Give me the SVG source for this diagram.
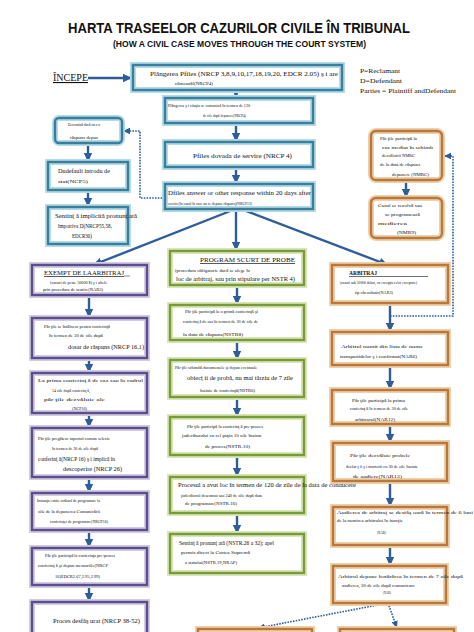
<svg xmlns="http://www.w3.org/2000/svg" width="474" height="632" viewBox="0 0 474 632">
<style>
.bg{fill:#fff}
.g{fill:#fff;stroke-width:6}
.b{fill:none;stroke-width:2.4}
.tg{stroke:#b3dbe8}.tb{stroke:#3b7e9c}
.pg{stroke:#d2cce3}.pb{stroke:#5c4d8b}
.gg{stroke:#d8e6b8}.gb{stroke:#7a9a3a}
.og{stroke:#efd0ad}.ob{stroke:#b9783a}
.ln{fill:none;stroke:#2f5d9c;stroke-width:2.4}
.dt{fill:none;stroke:#2f5d9c;stroke-width:1.6;stroke-dasharray:1.6 1.2}
text{font-family:"Liberation Serif","Times New Roman",serif;fill:#111}
.s{font-size:7px}
.x{font-size:5px}
.ttl{font-family:"Liberation Sans",Arial,sans-serif;font-weight:bold}
</style>
<defs>
<marker id="ah" markerUnits="userSpaceOnUse" markerWidth="10" markerHeight="10" refX="9" refY="5" orient="auto">
<path d="M0,0.8 L9,5 L0,9.2 Z" fill="#2f5d9c"/>
</marker>
<marker id="as" markerUnits="userSpaceOnUse" markerWidth="8" markerHeight="8" refX="7" refY="4" orient="auto">
<path d="M0,0.8 L7,4 L0,7.2 Z" fill="#2f5d9c"/>
</marker>
</defs>
<rect class="bg" width="474" height="632"/>

<g id="title">
<text class="ttl" x="68" y="33" font-size="14" textLength="342" lengthAdjust="spacingAndGlyphs">HARTA TRASEELOR CAZURILOR CIVILE ÎN TRIBUNAL</text>
<text class="ttl" x="113" y="47" font-size="8.5" textLength="253" lengthAdjust="spacingAndGlyphs">(HOW A CIVIL CASE MOVES THROUGH THE COURT SYSTEM)</text>
</g>

<g id="start">
<text x="53" y="81" font-size="11" text-decoration="underline" textLength="35" lengthAdjust="spacingAndGlyphs">ÎNCEPE</text>
</g>

<g id="legend">
<text class="s" x="360" y="73" textLength="40" lengthAdjust="spacingAndGlyphs">P=Reclamant</text>
<text class="s" x="360" y="83" textLength="42" lengthAdjust="spacingAndGlyphs">D=Defendant</text>
<text class="s" x="360" y="93" textLength="96" lengthAdjust="spacingAndGlyphs">Parties = Plaintiff andDefendant</text>
</g>

<g id="connectors">
<path class="ln" d="M88,78 H132" marker-end="url(#ah)"/>
<path class="ln" d="M236,90 V98" marker-end="url(#ah)"/>
<path class="ln" d="M236,123 V142" marker-end="url(#ah)"/>
<path class="ln" d="M236,167 V184" marker-end="url(#ah)"/>
<path class="ln" d="M236,209 V251" marker-end="url(#ah)"/>
<path class="ln" d="M238,208 L93,265" marker-end="url(#ah)"/>
<path class="ln" d="M238,208 L388,265" marker-end="url(#ah)"/>
<path class="dt" d="M165,198 H140 V131 H123" marker-end="url(#as)"/>
<path class="ln" d="M88,143 V162" marker-end="url(#ah)"/>
<path class="ln" d="M88,190 V207" marker-end="url(#ah)"/>
<path class="ln" d="M89,295 V318" marker-end="url(#ah)"/>
<path class="ln" d="M89,358 V373" marker-end="url(#ah)"/>
<path class="ln" d="M89,413 V428" marker-end="url(#ah)"/>
<path class="ln" d="M89,477 V493" marker-end="url(#ah)"/>
<path class="ln" d="M89,530 V548" marker-end="url(#ah)"/>
<path class="ln" d="M89,585 V602" marker-end="url(#ah)"/>
<path class="ln" d="M237,285 V305" marker-end="url(#ah)"/>
<path class="ln" d="M237,340 V360" marker-end="url(#ah)"/>
<path class="ln" d="M237,397 V417" marker-end="url(#ah)"/>
<path class="ln" d="M237,455 V477" marker-end="url(#ah)"/>
<path class="ln" d="M237,513 V534" marker-end="url(#ah)"/>
<path class="ln" d="M390,303 V332" marker-end="url(#ah)"/>
<path class="ln" d="M390,365 V390" marker-end="url(#ah)"/>
<path class="ln" d="M390,424 V443" marker-end="url(#ah)"/>
<path class="ln" d="M390,481 V507" marker-end="url(#ah)"/>
<path class="ln" d="M390,545 V566" marker-end="url(#ah)"/>
<path class="ln" d="M406,180 V198" marker-end="url(#ah)"/>
<path class="dt" d="M390,316 H453 V156 H444" marker-end="url(#as)"/>
<path class="dt" d="M388,603 L258,628" marker-end="url(#as)"/>
<path class="dt" d="M388,603 L397,628" marker-end="url(#as)"/>
</g>

<g id="n-complaint">
<rect class="g tg" x="133" y="65" width="209" height="25"/><rect class="b tb" x="133" y="65" width="209" height="25"/>
<text class="s" x="150" y="76" textLength="188" lengthAdjust="spacingAndGlyphs">Plângerea Pfiles (NRCP 3,8,9,10,17,18,19,20, EDCR 2.05) ş i are</text>
<text class="x" x="175" y="85" textLength="38" lengthAdjust="spacingAndGlyphs">câmeanăl(NRCP4)</text>
</g>

<g id="n-summons">
<rect class="g tg" x="165" y="98" width="148" height="25"/><rect class="b tb" x="165" y="98" width="148" height="25"/>
<text class="x" x="168" y="107" textLength="82" lengthAdjust="spacingAndGlyphs">Plângerea ş i citaţia se comunică în termen de 120</text>
<text class="x" x="203" y="117" textLength="43" lengthAdjust="spacingAndGlyphs">de zile după depunere(NRCP4)</text>
</g>

<g id="n-service">
<rect class="g tg" x="165" y="142" width="148" height="25"/><rect class="b tb" x="165" y="142" width="148" height="25"/>
<text class="s" x="193" y="158" textLength="99" lengthAdjust="spacingAndGlyphs">Pfiles dovada de servire (NRCP 4)</text>
</g>

<g id="n-answer">
<rect class="g tg" x="165" y="184" width="148" height="25"/><rect class="b tb" x="165" y="184" width="148" height="25"/>
<text class="s" x="168" y="195" textLength="143" lengthAdjust="spacingAndGlyphs">Dfiles answer or other response within 20 days after</text>
<text class="x" x="168" y="205" textLength="84" lengthAdjust="spacingAndGlyphs">service(în cazul în care nu se depune răspuns)(NRCP12)</text>
</g>

<g id="n-noanswer">
<rect class="g tg" x="55" y="118" width="67" height="25" rx="4"/><rect class="b tb" x="55" y="118" width="67" height="25" rx="4"/>
<text class="x" x="68" y="126" textLength="32" lengthAdjust="spacingAndGlyphs">Determină dacă nu s-a</text>
<text class="x" x="70" y="139" textLength="28" lengthAdjust="spacingAndGlyphs">răspuns depus</text>
</g>

<g id="n-default">
<rect class="g tg" x="48" y="162" width="80" height="28"/><rect class="b tb" x="48" y="162" width="80" height="28"/>
<text class="s" x="58" y="173" textLength="52" lengthAdjust="spacingAndGlyphs">Dudefault introdu de</text>
<text class="x" x="58" y="183" textLength="30" lengthAdjust="spacingAndGlyphs">stat(NCP5)</text>
</g>

<g id="n-defaultjudgment">
<rect class="g tg" x="48" y="207" width="80" height="37"/><rect class="b tb" x="48" y="207" width="80" height="37"/>
<text class="s" x="55" y="218" textLength="82" lengthAdjust="spacingAndGlyphs">Sentinţ ă implicită pronunţ ată</text>
<text class="s" x="58" y="228" textLength="54" lengthAdjust="spacingAndGlyphs">împotriva D(NRCP55,58,</text>
<text class="s" x="72" y="238" textLength="20" lengthAdjust="spacingAndGlyphs">EDCR30)</text>
</g>

<g id="n-mediation">
<rect class="g og" x="371" y="131" width="71" height="49" rx="5"/><rect class="b ob" x="371" y="131" width="71" height="49" rx="5"/>
<text class="x" x="380" y="140" textLength="37" lengthAdjust="spacingAndGlyphs">Păr ţile participă la</text>
<text class="x" x="382" y="149" textLength="51" lengthAdjust="spacingAndGlyphs">caz mediat în schimb</text>
<text class="x" x="382" y="157" textLength="33" lengthAdjust="spacingAndGlyphs">dezvăluirii NMRC</text>
<text class="x" x="380" y="166" textLength="40" lengthAdjust="spacingAndGlyphs">de la data de răspuns</text>
<text class="x" x="392" y="176" textLength="37" lengthAdjust="spacingAndGlyphs">depunere (NMRC)</text>
</g>

<g id="n-mediated">
<rect class="g og" x="371" y="198" width="71" height="40" rx="5"/><rect class="b ob" x="371" y="198" width="71" height="40" rx="5"/>
<text class="x" x="378" y="207" textLength="44" lengthAdjust="spacingAndGlyphs">Cazul se rezolvă sau</text>
<text class="x" x="385" y="216" textLength="35" lengthAdjust="spacingAndGlyphs">se programează</text>
<text class="x" x="378" y="225" textLength="29" lengthAdjust="spacingAndGlyphs">medierea</text>
<text class="x" x="397" y="234" textLength="19" lengthAdjust="spacingAndGlyphs">(NMR9)</text>
</g>

<g id="n-exempt">
<rect class="g pg" x="32" y="265" width="115" height="30"/><rect class="b pb" x="32" y="265" width="115" height="30"/>
<text class="s" x="44" y="275" textLength="80" lengthAdjust="spacingAndGlyphs" text-decoration="underline">EXEMPT DE LAARBITRAJ</text>
<line x1="124" y1="276" x2="130" y2="276" stroke="#111" stroke-width="0.5"/>
<text class="x" x="50" y="284" textLength="57" lengthAdjust="spacingAndGlyphs">(cazuri de peste 50000 $) ş i altele</text>
<text class="x" x="43" y="291" textLength="60" lengthAdjust="spacingAndGlyphs">prin procedura de scutire(NAR3)</text>
</g>

<g id="n-l2">
<rect class="g pg" x="32" y="318" width="115" height="40"/><rect class="b pb" x="32" y="318" width="115" height="40"/>
<text class="x" x="44" y="328" textLength="66" lengthAdjust="spacingAndGlyphs">Păr ţile se întâlnesc pentru conferinţă</text>
<text class="x" x="49" y="337" textLength="54" lengthAdjust="spacingAndGlyphs">în termen de 30 de zile după</text>
<text class="s" x="68" y="349" textLength="76" lengthAdjust="spacingAndGlyphs">dosar de răspuns (NRCP 16.1)</text>
</g>

<g id="n-l3">
<rect class="g pg" x="32" y="373" width="115" height="40"/><rect class="b pb" x="32" y="373" width="115" height="40"/>
<text class="x" x="38" y="382" textLength="105" lengthAdjust="spacingAndGlyphs">La prima conferinţ ă de caz sau în cadrul</text>
<text class="x" x="52" y="392" textLength="38" lengthAdjust="spacingAndGlyphs">14 zile după conferinţ ă,</text>
<text class="x" x="44" y="401" textLength="61" lengthAdjust="spacingAndGlyphs">păr ţile dezvăluie ale</text>
<text class="x" x="72" y="410" textLength="15" lengthAdjust="spacingAndGlyphs">(NCP16)</text>
</g>

<g id="n-l4">
<rect class="g pg" x="32" y="428" width="115" height="49"/><rect class="b pb" x="32" y="428" width="115" height="49"/>
<text class="x" x="38" y="440" textLength="72" lengthAdjust="spacingAndGlyphs">Păr ţile pregătesc raportul comun selecte</text>
<text class="x" x="52" y="450" textLength="46" lengthAdjust="spacingAndGlyphs">în termen de 30 de zile după</text>
<text class="s" x="38" y="461" textLength="77" lengthAdjust="spacingAndGlyphs">conferinţ ă(NRCP 16) ş i implică în</text>
<text class="s" x="63" y="471" textLength="59" lengthAdjust="spacingAndGlyphs">descoperire (NRCP 26)</text>
</g>

<g id="n-l5">
<rect class="g pg" x="32" y="493" width="115" height="37"/><rect class="b pb" x="32" y="493" width="115" height="37"/>
<text class="x" x="37" y="502" textLength="63" lengthAdjust="spacingAndGlyphs">Instanţa emite ordinul de programare la</text>
<text class="x" x="38" y="513" textLength="62" lengthAdjust="spacingAndGlyphs">zile de la depunerea Comunicării</text>
<text class="x" x="50" y="523" textLength="58" lengthAdjust="spacingAndGlyphs">conferinţei de programare(NRCP16)</text>
</g>

<g id="n-l6">
<rect class="g pg" x="32" y="548" width="115" height="37"/><rect class="b pb" x="32" y="548" width="115" height="37"/>
<text class="x" x="45" y="557" textLength="70" lengthAdjust="spacingAndGlyphs">Păr ţile participă la conferinţa pre-proces</text>
<text class="x" x="38" y="567" textLength="70" lengthAdjust="spacingAndGlyphs">conferinţ ă şi depun memoriile(NRCP</text>
<text class="x" x="55" y="578" textLength="45" lengthAdjust="spacingAndGlyphs">16)EDCR2.67,2.95,2.99)</text>
</g>

<g id="n-l7">
<rect class="g pg" x="32" y="602" width="115" height="50"/><rect class="b pb" x="32" y="602" width="115" height="50"/>
<text class="s" x="53" y="623" textLength="87" lengthAdjust="spacingAndGlyphs">Proces desfăş urat (NRCP 38-52)</text>
</g>

<g id="n-short">
<rect class="g gg" x="170" y="251" width="134" height="34"/><rect class="b gb" x="170" y="251" width="134" height="34"/>
<text class="s" x="200" y="262" textLength="95" lengthAdjust="spacingAndGlyphs" text-decoration="underline">PROGRAM SCURT DE PROBE</text>
<text class="x" x="175" y="272" textLength="75" lengthAdjust="spacingAndGlyphs">(procedura obligatorie dacă se alege în</text>
<text class="s" x="176" y="281" textLength="119" lengthAdjust="spacingAndGlyphs">loc de arbitraj, sau prin stipulare per NSTR 4)</text>
</g>

<g id="n-m2">
<rect class="g gg" x="170" y="305" width="134" height="35"/><rect class="b gb" x="170" y="305" width="134" height="35"/>
<text class="x" x="185" y="313" textLength="73" lengthAdjust="spacingAndGlyphs">Păr ţile participă la o primă conferinţă şi</text>
<text class="x" x="183" y="323" textLength="75" lengthAdjust="spacingAndGlyphs">conferinţ ă de caz în termen de 30 de zile de</text>
<text class="x" x="183" y="336" textLength="60" lengthAdjust="spacingAndGlyphs">la data de răspuns(NSTR8)</text>
</g>

<g id="n-m3">
<rect class="g gg" x="170" y="360" width="134" height="37"/><rect class="b gb" x="170" y="360" width="134" height="37"/>
<text class="x" x="175" y="369" textLength="82" lengthAdjust="spacingAndGlyphs">Păr ţile schimbă documentele şi depun eventuale</text>
<text class="s" x="187" y="380" textLength="106" lengthAdjust="spacingAndGlyphs">obiecţ ii de probă, nu mai târziu de 7 zile</text>
<text class="x" x="200" y="392" textLength="55" lengthAdjust="spacingAndGlyphs">înainte de conferinţă(NSTR6)</text>
</g>

<g id="n-m4">
<rect class="g gg" x="170" y="417" width="134" height="38"/><rect class="b gb" x="170" y="417" width="134" height="38"/>
<text class="x" x="187" y="428" textLength="76" lengthAdjust="spacingAndGlyphs">Păr ţile participă la conferinţ ă pre-proces</text>
<text class="x" x="182" y="437" textLength="80" lengthAdjust="spacingAndGlyphs">judecătorului cu cel puţin 10 zile înainte</text>
<text class="x" x="205" y="448" textLength="45" lengthAdjust="spacingAndGlyphs">de proces(NSTR.10)</text>
</g>

<g id="n-m5">
<rect class="g gg" x="170" y="477" width="134" height="36"/><rect class="b gb" x="170" y="477" width="134" height="36"/>
<text class="s" x="178" y="487" textLength="178" lengthAdjust="spacingAndGlyphs">Procesul a avut loc în termen de 120 de zile de la data de conducere</text>
<text class="x" x="181" y="497" textLength="81" lengthAdjust="spacingAndGlyphs">judecătorul desemnat sau 240 de zile după data</text>
<text class="x" x="185" y="505" textLength="52" lengthAdjust="spacingAndGlyphs">de programare(NSTR.16)</text>
</g>

<g id="n-m6">
<rect class="g gg" x="170" y="534" width="134" height="39"/><rect class="b gb" x="170" y="534" width="134" height="39"/>
<text class="s" x="179" y="545" textLength="95" lengthAdjust="spacingAndGlyphs">Sentinţ ă pronunţ ată (NSTR.26 a 32); apel</text>
<text class="x" x="181" y="554" textLength="69" lengthAdjust="spacingAndGlyphs">permis direct la Curtea Supremă</text>
<text class="x" x="185" y="564" textLength="52" lengthAdjust="spacingAndGlyphs">a statului(NSTR.19,NRAP)</text>
</g>

<g id="n-arb">
<rect class="g og" x="332" y="265" width="116" height="38"/><rect class="b ob" x="332" y="265" width="116" height="38"/>
<text class="s" x="349" y="275" font-weight="bold" textLength="28" lengthAdjust="spacingAndGlyphs">ARBITRAJ</text>
<line x1="349" y1="276.5" x2="428" y2="276.5" stroke="#111" stroke-width="0.6"/>
<text class="x" x="340" y="284" textLength="77" lengthAdjust="spacingAndGlyphs">(cazuri sub 50000 dolari, cu excepţia celor exceptate)</text>
<text class="x" x="355" y="294" textLength="38" lengthAdjust="spacingAndGlyphs">tip obezultatic(NAR3)</text>
</g>

<g id="n-r2">
<rect class="g og" x="332" y="332" width="116" height="33"/><rect class="b ob" x="332" y="332" width="116" height="33"/>
<text class="x" x="341" y="348" font-size="5.5" textLength="82" lengthAdjust="spacingAndGlyphs">Arbitrul numit din lista de nume</text>
<text class="x" x="340" y="358" font-size="5.5" textLength="77" lengthAdjust="spacingAndGlyphs">transpartidelor ş i confirmat(NAR6)</text>
</g>

<g id="n-r3">
<rect class="g og" x="332" y="390" width="116" height="34"/><rect class="b ob" x="332" y="390" width="116" height="34"/>
<text class="x" x="352" y="402" textLength="53" lengthAdjust="spacingAndGlyphs">Păr ţile participă la prima</text>
<text class="x" x="350" y="410" textLength="58" lengthAdjust="spacingAndGlyphs">conferinţ ă în termen de 30 de zile</text>
<text class="x" x="355" y="421" textLength="40" lengthAdjust="spacingAndGlyphs">arbitrarul(NAR12)</text>
</g>

<g id="n-r4">
<rect class="g og" x="333" y="443" width="114" height="38"/><rect class="b ob" x="333" y="443" width="114" height="38"/>
<text class="x" x="350" y="457" textLength="60" lengthAdjust="spacingAndGlyphs">Păr ţile dezvăluie probele</text>
<text class="x" x="346" y="468" textLength="72" lengthAdjust="spacingAndGlyphs">declar ţ ii ş i martorii cu 30 de zile înainte</text>
<text class="x" x="353" y="478" textLength="49" lengthAdjust="spacingAndGlyphs">de audiere(NAR13)</text>
</g>

<g id="n-r5">
<rect class="g og" x="333" y="507" width="114" height="38"/><rect class="b ob" x="333" y="507" width="114" height="38"/>
<text class="x" x="337" y="514" font-size="5.5" textLength="136" lengthAdjust="spacingAndGlyphs">Audierea de arbitraj se desfăş oară în termen de 6 luni</text>
<text class="x" x="337" y="522" textLength="66" lengthAdjust="spacingAndGlyphs">de la numirea arbitrului în funcţie</text>
<text class="x" x="377" y="534" textLength="9" lengthAdjust="spacingAndGlyphs">(NAR)</text>
</g>

<g id="n-r6">
<rect class="g og" x="333" y="566" width="113" height="37"/><rect class="b ob" x="333" y="566" width="113" height="37"/>
<text class="x" x="338" y="578" font-size="5.5" textLength="125" lengthAdjust="spacingAndGlyphs">Arbitrul depune hotărârea în termen de 7 zile după</text>
<text class="x" x="342" y="587" textLength="73" lengthAdjust="spacingAndGlyphs">audierea, 30 de zile după comunicare</text>
<text class="x" x="383" y="594" textLength="8" lengthAdjust="spacingAndGlyphs">(NAR)</text>
</g>

<g id="n-bottom-left">
<rect class="g og" x="198" y="629" width="114" height="30"/><rect class="b ob" x="198" y="629" width="114" height="30"/>
</g>
<g id="n-bottom-right">
<rect class="g og" x="340" y="629" width="114" height="30"/><rect class="b ob" x="340" y="629" width="114" height="30"/>
</g>
</svg>
